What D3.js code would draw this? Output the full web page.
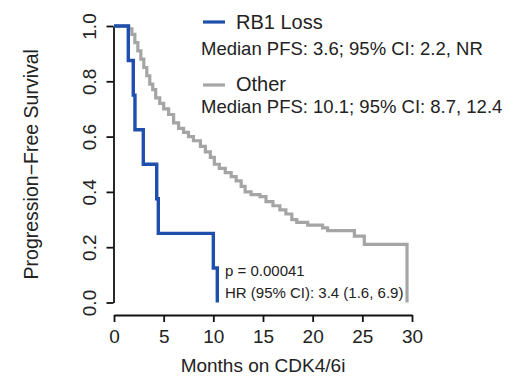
<!DOCTYPE html>
<html>
<head>
<meta charset="utf-8">
<script src="https://cdn.jsdelivr.net/npm/d3@7"></script>
<style>
  html, body { margin: 0; padding: 0; background: #fff; }
  svg { display: block; font-family: "Liberation Sans", Arial, Helvetica, sans-serif; }
</style>
</head>
<body>
<svg id="chart" width="518" height="377"></svg>
<script>
// ---- data ----
const xTicks = [0, 5, 10, 15, 20, 25, 30];
const yTicks = [0.0, 0.2, 0.4, 0.6, 0.8, 1.0];
const yTickLabels = ["0.0", "0.2", "0.4", "0.6", "0.8", "1.0"];

// RB1 Loss: [months, survival] at each step
const rb1Times    = [0, 1.44, 1.94, 2.11, 2.95, 4.30, 4.46, 10.0, 10.4];
const rb1Survival = [1, 0.875, 0.75, 0.625, 0.5, 0.375, 0.25, 0.125, 0];

// Other
const otherTimes = [0, 1.5, 1.8, 2.1, 2.4, 2.7, 3.0, 3.3, 3.6, 3.9, 4.2, 4.6, 5.0, 5.5, 6.0, 6.5, 7.0, 7.5, 8.0, 8.7, 9.2, 9.7, 10.1, 10.6, 11.2, 11.8, 12.3, 12.8, 13.2, 13.8, 14.7, 15.3, 16.0, 16.7, 17.3, 17.9, 18.4, 19.5, 21.0, 21.5, 24.2, 25.2, 29.5];
const otherSurvival = [1, 0.99, 0.97, 0.94, 0.91, 0.88, 0.85, 0.82, 0.79, 0.77, 0.74, 0.72, 0.70, 0.68, 0.65, 0.63, 0.615, 0.60, 0.585, 0.565, 0.545, 0.525, 0.50, 0.485, 0.47, 0.455, 0.44, 0.42, 0.40, 0.39, 0.383, 0.365, 0.35, 0.335, 0.32, 0.30, 0.29, 0.28, 0.27, 0.26, 0.24, 0.21, 0];

const seriesNames = ["RB1 Loss", "Other"];
const seriesColors = ["#1e4fad", "#a5a5a5"];
const medianTexts = ["Median PFS: 3.6; 95% CI: 2.2, NR", "Median PFS: 10.1; 95% CI: 8.7, 12.4"];
const statTexts = ["p = 0.00041", "HR (95% CI): 3.4 (1.6, 6.9)"];
const xTitle = "Months on CDK4/6i";
const yTitle = "Progression\u2212Free Survival";

// ---- drawing ----
const svg = d3.select("#chart");
const x = d3.scaleLinear().domain([0, 30]).range([114, 412]);
const y = d3.scaleLinear().domain([0, 1]).range([302.5, 26]);
const textColor = "#222";

// y axis
const yAxis = svg.append("g").attr("transform", "translate(113.5,0)")
  .call(d3.axisLeft(y).tickValues(yTicks).tickSize(7).tickSizeOuter(0).tickFormat((d, i) => yTickLabels[i]));
yAxis.select(".domain").attr("stroke", "#111").attr("stroke-width", 1.8);
yAxis.selectAll(".tick line").attr("stroke", "#111").attr("stroke-width", 1.8);
yAxis.selectAll(".tick text")
  .attr("x", null).attr("dy", null)
  .attr("transform", "translate(-18,0) rotate(-90)")
  .attr("text-anchor", "middle")
  .attr("fill", textColor)
  .style("font-size", "19px");

// x axis
const xAxis = svg.append("g").attr("transform", "translate(0,315)")
  .call(d3.axisBottom(x).tickValues(xTicks).tickSize(7).tickSizeOuter(0));
xAxis.select(".domain").attr("stroke", "#111").attr("stroke-width", 1.8);
xAxis.selectAll(".tick line").attr("stroke", "#111").attr("stroke-width", 1.8);
xAxis.selectAll(".tick text")
  .attr("y", 28).attr("dy", null)
  .attr("fill", textColor)
  .style("font-size", "19px");

// titles
svg.append("text").attr("x", x(15)).attr("y", 372).attr("text-anchor", "middle")
  .attr("fill", textColor).style("font-size", "19px").text(xTitle);
svg.append("text").attr("transform", `translate(38,${(y(0) + y(1)) / 2}) rotate(-90)`)
  .attr("text-anchor", "middle").attr("fill", textColor).style("font-size", "19.5px").text(yTitle);

// curves
const line = d3.line().x(d => x(d[0])).y(d => y(d[1])).curve(d3.curveStepAfter);
const otherData = otherTimes.map((t, i) => [t, otherSurvival[i]]);
const rb1Data = rb1Times.map((t, i) => [t, rb1Survival[i]]);
svg.append("path").datum(otherData).attr("d", line)
  .attr("fill", "none").attr("stroke", seriesColors[1]).attr("stroke-width", 3.2);
svg.append("path").datum(rb1Data).attr("d", line)
  .attr("fill", "none").attr("stroke", seriesColors[0]).attr("stroke-width", 3.4);

// legend
const legendY = [22, 85];
const nameBase = [29, 91];
const medBase = [55, 113];
seriesNames.forEach((name, i) => {
  svg.append("line").attr("x1", 203).attr("x2", 225).attr("y1", legendY[i]).attr("y2", legendY[i])
    .attr("stroke", seriesColors[i]).attr("stroke-width", 3.2);
  svg.append("text").attr("x", 236).attr("y", nameBase[i]).attr("fill", textColor)
    .style("font-size", "20px").text(name);
  svg.append("text").attr("x", 201).attr("y", medBase[i]).attr("fill", textColor)
    .style("font-size", "18.5px").text(medianTexts[i]);
});

// stats
const statBase = [276, 298];
statTexts.forEach((t, i) => {
  svg.append("text").attr("x", 225).attr("y", statBase[i]).attr("fill", textColor)
    .style("font-size", "15px").text(t);
});
</script>
</body>
</html>
